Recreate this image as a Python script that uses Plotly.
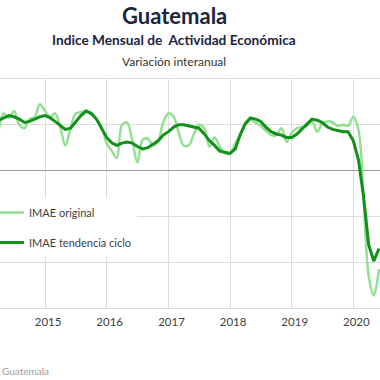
import pandas as pd
import plotly.graph_objects as go

# Monthly data, April 2014 - June 2020 (year-on-year % change)
start_month = "2014-04-01"
imae_original = [
    3.5, 5.0, 4.6, 5.2, 4.0, 3.7, 4.5, 4.7, 5.8,            # Apr-Dec 2014
    5.2, 4.7, 5.0, 3.8, 2.2, 3.7, 5.0, 5.1, 5.2, 4.9, 4.5, 3.8,  # 2015
    2.4, 1.7, 1.1, 4.0, 4.2, 2.6, 0.7, 2.7, 2.8, 2.2, 2.6, 4.2,  # 2016
    5.0, 4.7, 3.4, 2.2, 2.2, 3.2, 4.0, 3.7, 2.1, 2.9, 2.1, 1.5,  # 2017
    1.5, 2.4, 3.1, 4.0, 4.4, 4.2, 3.9, 3.5, 3.1, 3.1, 3.7, 2.5,  # 2018
    3.3, 3.7, 3.8, 3.9, 4.3, 3.4, 4.1, 4.3, 4.2, 3.9, 4.0, 3.9,  # 2019
    4.7, 3.5, -2.2, -9.2, -10.9, -8.6,                        # 2020
]
imae_tendencia = [
    4.4, 4.6, 4.8, 4.7, 4.5, 4.2, 4.3, 4.5, 4.7,
    4.8, 4.6, 4.3, 3.9, 3.6, 3.7, 4.2, 4.8, 5.2, 5.0, 4.5, 3.7,
    2.9, 2.4, 2.2, 2.4, 2.5, 2.4, 2.1, 1.9, 2.0, 2.3, 2.6, 3.1,
    3.4, 3.8, 4.0, 4.0, 3.9, 3.8, 3.7, 3.2, 2.6, 2.2, 1.7, 1.6,
    1.5, 1.9, 3.1, 4.1, 4.6, 4.5, 4.3, 3.8, 3.4, 3.2, 3.1, 2.9,
    2.9, 3.2, 3.6, 4.1, 4.5, 4.4, 4.2, 3.8, 3.6, 3.5, 3.4, 3.4,
    2.6, 0.9, -2.2, -6.5, -7.9, -6.8,
]
year_ticks = ["2015-01-01", "2016-01-01", "2017-01-01", "2018-01-01", "2019-01-01", "2020-01-01"]
year_labels = ["2015", "2016", "2017", "2018", "2019", "2020"]

dates = pd.date_range(start_month, periods=len(imae_original), freq="MS")

FONT = "Lato, 'Open Sans', sans-serif"
NAVY = "#1b2540"
PLOT_TOP, PLOT_BOTTOM = 79, 308


def py2paper(py):
    return (PLOT_BOTTOM - py) / (PLOT_BOTTOM - PLOT_TOP)


fig = go.Figure()
fig.add_trace(go.Scatter(
    x=dates, y=imae_original, name="IMAE original", mode="lines",
    line=dict(color="#93df93", width=2.5, shape="spline", smoothing=1.0),
    legendgroup="a",
))
fig.add_trace(go.Scatter(
    x=dates, y=imae_tendencia, name="IMAE tendencia ciclo", mode="lines",
    line=dict(color="#12901a", width=3),
    legendgroup="b",
))

fig.update_layout(
    width=380, height=380,
    margin=dict(l=0, r=0, t=PLOT_TOP, b=380 - PLOT_BOTTOM, autoexpand=False),
    paper_bgcolor="white", plot_bgcolor="white",
    font=dict(family=FONT, color="#404040", size=11),
    showlegend=True,
    legend=dict(
        x=-11 / 380, xanchor="left",
        y=py2paper(198), yanchor="top",
        bgcolor="white", borderwidth=0,
        font=dict(family=FONT, size=11, color="#404040"),
        tracegroupgap=11,
    ),
    xaxis=dict(
        range=["2014-04-09", "2020-06-07"],
        tickvals=year_ticks, ticktext=year_labels,
        showgrid=True, gridcolor="#dcdcdc", gridwidth=1,
        showline=True, mirror=True, linecolor="#dcdcdc", linewidth=1,
        ticks="", tickfont=dict(size=11.5, color="#404040"),
        ticklabelshift=3, ticklabelstandoff=3,
        zeroline=False,
    ),
    yaxis=dict(
        range=[-12, 8], dtick=4,
        showgrid=True, gridcolor="#dcdcdc", gridwidth=1,
        zeroline=True, zerolinecolor="#9a9a9a", zerolinewidth=1,
        showticklabels=False, ticks="",
    ),
    annotations=[
        dict(text="<b>Guatemala</b>", x=174 / 380, y=py2paper(15), xref="paper", yref="paper",
             yanchor="middle", showarrow=False, font=dict(size=22, color=NAVY, family=FONT)),
        dict(text="<b>Indice Mensual de  Actividad Económica</b>", x=174 / 380, y=py2paper(40),
             xref="paper", yref="paper", yanchor="middle", showarrow=False,
             font=dict(size=13.7, color=NAVY, family=FONT)),
        dict(text="Variación interanual", x=174 / 380, y=py2paper(61), xref="paper", yref="paper",
             yanchor="middle", showarrow=False, font=dict(size=12, color="#333333", family=FONT)),
        dict(text="Guatemala", x=0, y=py2paper(371), xref="paper", yref="paper", xanchor="left",
             yanchor="middle", showarrow=False, font=dict(size=10, color="#9a9a9a", family=FONT)),
    ],
)

fig.write_html(
    "out.html",
    config={"displayModeBar": False},
    post_script="document.body.style.margin='0';document.body.style.overflow='hidden';",
)
